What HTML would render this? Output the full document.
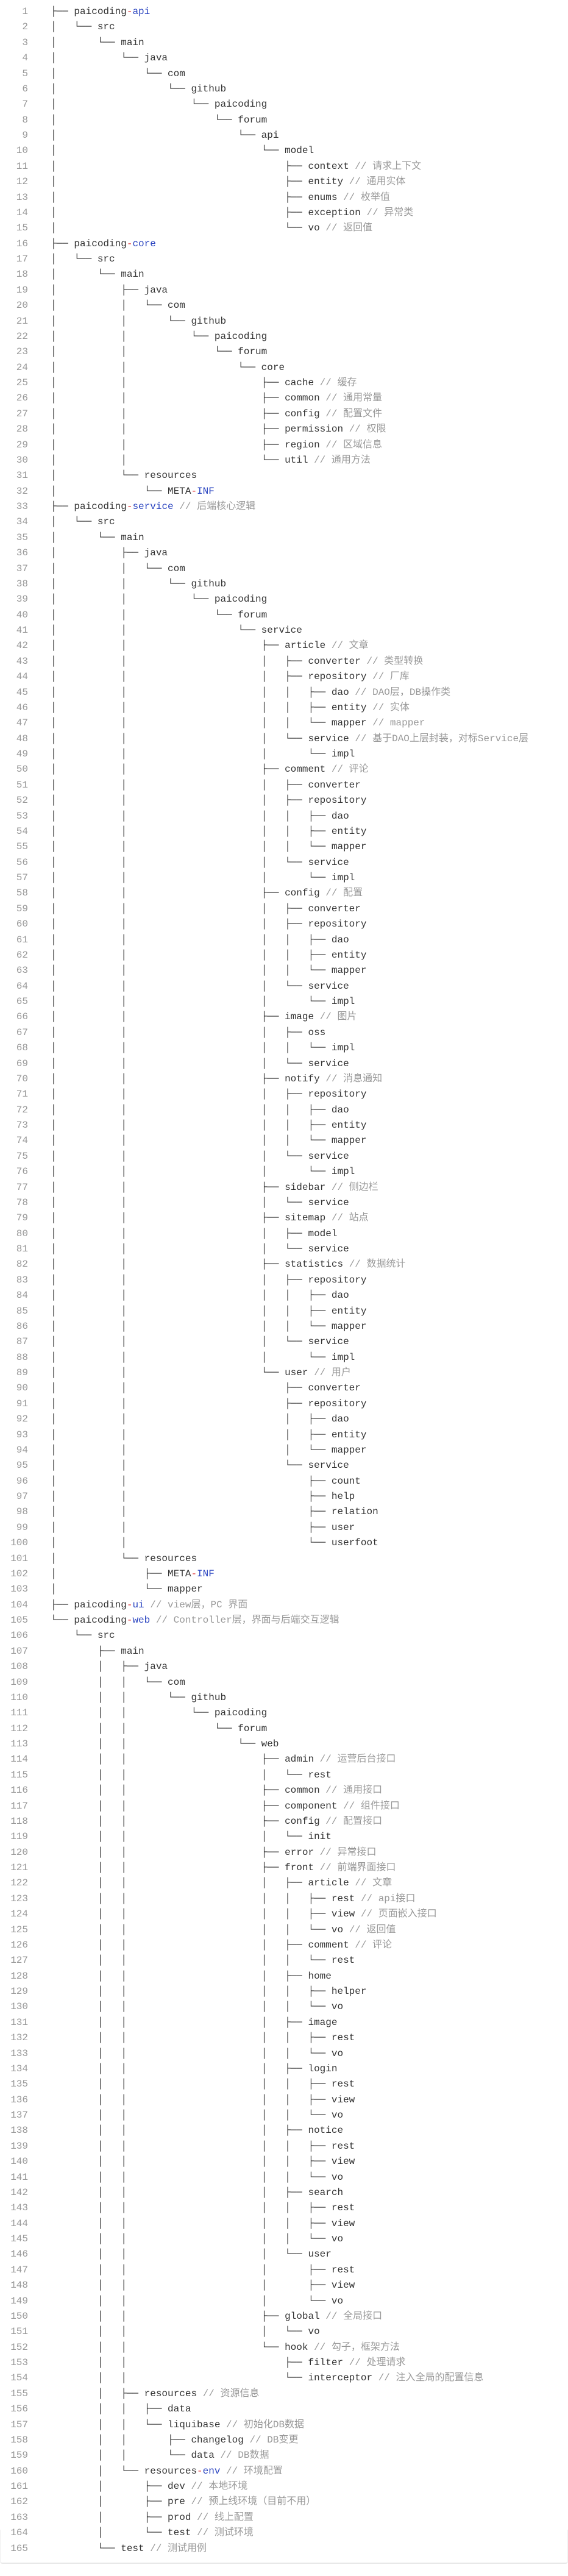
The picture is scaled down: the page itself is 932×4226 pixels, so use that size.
<!DOCTYPE html>
<html><head><meta charset="utf-8">
<style>
html,body{margin:0;padding:0;background:#fff;}
body{width:932px;height:4226px;position:relative;overflow:hidden;}
pre{margin:0;position:absolute;top:7px;font-family:"Liberation Mono","Noto Sans CJK SC",monospace;font-size:16px;line-height:25.38px;}
#ln{left:0;width:46px;text-align:right;color:#999;}
#code{left:83px;color:#333;}
.c{color:#999;}
.r{color:#e0383c;}
.b{color:#2a44c0;}
#box{position:absolute;left:0;top:4150px;width:930px;height:54px;border-bottom:2px solid #e8e8e8;border-left:1px solid #f0f0f0;border-right:1px solid #f0f0f0;border-radius:0 0 4px 4px;}
</style></head><body>
<div id="box"></div>
<pre id="ln">1
2
3
4
5
6
7
8
9
10
11
12
13
14
15
16
17
18
19
20
21
22
23
24
25
26
27
28
29
30
31
32
33
34
35
36
37
38
39
40
41
42
43
44
45
46
47
48
49
50
51
52
53
54
55
56
57
58
59
60
61
62
63
64
65
66
67
68
69
70
71
72
73
74
75
76
77
78
79
80
81
82
83
84
85
86
87
88
89
90
91
92
93
94
95
96
97
98
99
100
101
102
103
104
105
106
107
108
109
110
111
112
113
114
115
116
117
118
119
120
121
122
123
124
125
126
127
128
129
130
131
132
133
134
135
136
137
138
139
140
141
142
143
144
145
146
147
148
149
150
151
152
153
154
155
156
157
158
159
160
161
162
163
164
165</pre>
<pre id="code">├── paicoding<span class="r">-</span><span class="b">api</span>
│   └── src
│       └── main
│           └── java
│               └── com
│                   └── github
│                       └── paicoding
│                           └── forum
│                               └── api
│                                   └── model
│                                       ├── context <span class="c">// 请求上下文</span>
│                                       ├── entity <span class="c">// 通用实体</span>
│                                       ├── enums <span class="c">// 枚举值</span>
│                                       ├── exception <span class="c">// 异常类</span>
│                                       └── vo <span class="c">// 返回值</span>
├── paicoding<span class="r">-</span><span class="b">core</span>
│   └── src
│       └── main
│           ├── java
│           │   └── com
│           │       └── github
│           │           └── paicoding
│           │               └── forum
│           │                   └── core
│           │                       ├── cache <span class="c">// 缓存</span>
│           │                       ├── common <span class="c">// 通用常量</span>
│           │                       ├── config <span class="c">// 配置文件</span>
│           │                       ├── permission <span class="c">// 权限</span>
│           │                       ├── region <span class="c">// 区域信息</span>
│           │                       └── util <span class="c">// 通用方法</span>
│           └── resources
│               └── META<span class="r">-</span><span class="b">INF</span>
├── paicoding<span class="r">-</span><span class="b">service</span> <span class="c">// 后端核心逻辑</span>
│   └── src
│       └── main
│           ├── java
│           │   └── com
│           │       └── github
│           │           └── paicoding
│           │               └── forum
│           │                   └── service
│           │                       ├── article <span class="c">// 文章</span>
│           │                       │   ├── converter <span class="c">// 类型转换</span>
│           │                       │   ├── repository <span class="c">// 厂库</span>
│           │                       │   │   ├── dao <span class="c">// DAO层，DB操作类</span>
│           │                       │   │   ├── entity <span class="c">// 实体</span>
│           │                       │   │   └── mapper <span class="c">// mapper</span>
│           │                       │   └── service <span class="c">// 基于DAO上层封装，对标Service层</span>
│           │                       │       └── impl
│           │                       ├── comment <span class="c">// 评论</span>
│           │                       │   ├── converter
│           │                       │   ├── repository
│           │                       │   │   ├── dao
│           │                       │   │   ├── entity
│           │                       │   │   └── mapper
│           │                       │   └── service
│           │                       │       └── impl
│           │                       ├── config <span class="c">// 配置</span>
│           │                       │   ├── converter
│           │                       │   ├── repository
│           │                       │   │   ├── dao
│           │                       │   │   ├── entity
│           │                       │   │   └── mapper
│           │                       │   └── service
│           │                       │       └── impl
│           │                       ├── image <span class="c">// 图片</span>
│           │                       │   ├── oss
│           │                       │   │   └── impl
│           │                       │   └── service
│           │                       ├── notify <span class="c">// 消息通知</span>
│           │                       │   ├── repository
│           │                       │   │   ├── dao
│           │                       │   │   ├── entity
│           │                       │   │   └── mapper
│           │                       │   └── service
│           │                       │       └── impl
│           │                       ├── sidebar <span class="c">// 侧边栏</span>
│           │                       │   └── service
│           │                       ├── sitemap <span class="c">// 站点</span>
│           │                       │   ├── model
│           │                       │   └── service
│           │                       ├── statistics <span class="c">// 数据统计</span>
│           │                       │   ├── repository
│           │                       │   │   ├── dao
│           │                       │   │   ├── entity
│           │                       │   │   └── mapper
│           │                       │   └── service
│           │                       │       └── impl
│           │                       └── user <span class="c">// 用户</span>
│           │                           ├── converter
│           │                           ├── repository
│           │                           │   ├── dao
│           │                           │   ├── entity
│           │                           │   └── mapper
│           │                           └── service
│           │                               ├── count
│           │                               ├── help
│           │                               ├── relation
│           │                               ├── user
│           │                               └── userfoot
│           └── resources
│               ├── META<span class="r">-</span><span class="b">INF</span>
│               └── mapper
├── paicoding<span class="r">-</span><span class="b">ui</span> <span class="c">// view层，PC 界面</span>
└── paicoding<span class="r">-</span><span class="b">web</span> <span class="c">// Controller层，界面与后端交互逻辑</span>
    └── src
        ├── main
        │   ├── java
        │   │   └── com
        │   │       └── github
        │   │           └── paicoding
        │   │               └── forum
        │   │                   └── web
        │   │                       ├── admin <span class="c">// 运营后台接口</span>
        │   │                       │   └── rest
        │   │                       ├── common <span class="c">// 通用接口</span>
        │   │                       ├── component <span class="c">// 组件接口</span>
        │   │                       ├── config <span class="c">// 配置接口</span>
        │   │                       │   └── init
        │   │                       ├── error <span class="c">// 异常接口</span>
        │   │                       ├── front <span class="c">// 前端界面接口</span>
        │   │                       │   ├── article <span class="c">// 文章</span>
        │   │                       │   │   ├── rest <span class="c">// api接口</span>
        │   │                       │   │   ├── view <span class="c">// 页面嵌入接口</span>
        │   │                       │   │   └── vo <span class="c">// 返回值</span>
        │   │                       │   ├── comment <span class="c">// 评论</span>
        │   │                       │   │   └── rest
        │   │                       │   ├── home
        │   │                       │   │   ├── helper
        │   │                       │   │   └── vo
        │   │                       │   ├── image
        │   │                       │   │   ├── rest
        │   │                       │   │   └── vo
        │   │                       │   ├── login
        │   │                       │   │   ├── rest
        │   │                       │   │   ├── view
        │   │                       │   │   └── vo
        │   │                       │   ├── notice
        │   │                       │   │   ├── rest
        │   │                       │   │   ├── view
        │   │                       │   │   └── vo
        │   │                       │   ├── search
        │   │                       │   │   ├── rest
        │   │                       │   │   ├── view
        │   │                       │   │   └── vo
        │   │                       │   └── user
        │   │                       │       ├── rest
        │   │                       │       ├── view
        │   │                       │       └── vo
        │   │                       ├── global <span class="c">// 全局接口</span>
        │   │                       │   └── vo
        │   │                       └── hook <span class="c">// 勾子，框架方法</span>
        │   │                           ├── filter <span class="c">// 处理请求</span>
        │   │                           └── interceptor <span class="c">// 注入全局的配置信息</span>
        │   ├── resources <span class="c">// 资源信息</span>
        │   │   ├── data
        │   │   └── liquibase <span class="c">// 初始化DB数据</span>
        │   │       ├── changelog <span class="c">// DB变更</span>
        │   │       └── data <span class="c">// DB数据</span>
        │   └── resources<span class="r">-</span><span class="b">env</span> <span class="c">// 环境配置</span>
        │       ├── dev <span class="c">// 本地环境</span>
        │       ├── pre <span class="c">// 预上线环境（目前不用）</span>
        │       ├── prod <span class="c">// 线上配置</span>
        │       └── test <span class="c">// 测试环境</span>
        └── test <span class="c">// 测试用例</span></pre>
</body></html>
